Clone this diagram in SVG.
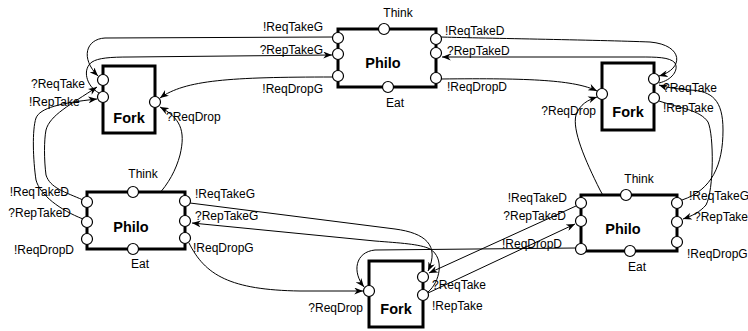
<svg xmlns="http://www.w3.org/2000/svg" width="748" height="331" viewBox="0 0 748 331">
<defs>
<marker id="ah" viewBox="0 0 10 8" refX="10" refY="4" markerWidth="9" markerHeight="7" markerUnits="userSpaceOnUse" orient="auto">
<path d="M0,0 L10,4 L0,8 L3,4 z" fill="#000"/>
</marker>
<style>
.box{fill:#fff;stroke:#000;stroke-width:3}
.port{fill:#fff;stroke:#000;stroke-width:1.2}
.c{fill:none;stroke:#000;stroke-width:1;marker-end:url(#ah)}
.lbl{font-family:"Liberation Sans",Arial,sans-serif;font-size:12px;fill:#000}
.ttl{font-family:"Liberation Sans",Arial,sans-serif;font-size:14.5px;font-weight:bold;fill:#000;text-anchor:middle}
.e{text-anchor:end}
.m{text-anchor:middle}
</style>
</defs>
<rect width="748" height="331" fill="#fff"/>
<g id="connectors">
<path class="c" d="M333,37 L105,38 C86,39 80,58 98,76"/>
<path class="c" d="M99,93 C86,86 82,69 92,62 C98,58 110,57 130,57 L332,55"/>
<path class="c" d="M333,77 C230,77 185,80 160,98"/>
<path class="c" d="M441,37 C470,38 600,40 650,42 C684,45 684,69 659,76"/>
<path class="c" d="M659,83 C672,80 679,70 675,63 C670,57 656,57 640,57 L442,57"/>
<path class="c" d="M441,79 C530,78 575,80 597,91"/>
<path class="c" d="M672,240 C640,226 612,214 600,190 C585,160 572,130 576,115 C580,104 588,100 597,97"/>
<path class="c" d="M682,200 C712,190 723,165 723,130 C723,100 712,91 690,90 C678,89 668,88 659,85"/>
<path class="c" d="M659,101 C680,108 700,110 708,122 C714,135 714,190 706,205 C700,212 692,216 683,219"/>
<path class="c" d="M83,200 C65,192 50,188 46,175 C44,160 44,140 46,130 C50,115 70,105 97,87"/>
<path class="c" d="M83,219 C60,210 40,195 36,180 C33,160 32,130 36,118 C40,108 60,103 97,99"/>
<path class="c" d="M92,236 L112,227 C150,210 172,185 180,155 C186,130 180,118 160,107"/>
<path class="c" d="M190,203 L395,229 C425,233 440,245 428,271"/>
<path class="c" d="M428,292 C440,282 445,258 430,249 C420,244 400,243 375,241 L192,223"/>
<path class="c" d="M189,243 C205,275 230,290 300,291 L363,291"/>
<path class="c" d="M576,248 L375,250 C355,252 352,272 364,287"/>
<path class="c" d="M576,206 L429,273"/>
<path class="c" d="M428,293 L575,224"/>
</g>
<g id="philo-top">
<rect class="box" x="338" y="29" width="98" height="58"/>
<circle class="port" cx="384" cy="29" r="5.5"/>
<circle class="port" cx="388" cy="87" r="5.5"/>
<circle class="port" cx="338" cy="38" r="5.5"/>
<circle class="port" cx="338" cy="54" r="5.5"/>
<circle class="port" cx="338" cy="76" r="5.5"/>
<circle class="port" cx="436" cy="39" r="5.5"/>
<circle class="port" cx="436" cy="53" r="5.5"/>
<circle class="port" cx="436" cy="78" r="5.5"/>
<text class="ttl" x="383" y="68">Philo</text>
<text class="lbl m" x="398" y="17">Think</text>
<text class="lbl m" x="395" y="107">Eat</text>
<text class="lbl e" x="323" y="31">!ReqTakeG</text>
<text class="lbl e" x="323" y="54">?RepTakeG</text>
<text class="lbl e" x="323" y="93">!ReqDropG</text>
<text class="lbl" x="445" y="35">!ReqTakeD</text>
<text class="lbl" x="447" y="55">?RepTakeD</text>
<text class="lbl" x="447" y="91">!ReqDropD</text>
</g>
<g id="fork-left">
<rect class="box" x="103" y="66" width="52" height="67"/>
<circle class="port" cx="103" cy="80" r="5.5"/>
<circle class="port" cx="103" cy="97" r="5.5"/>
<circle class="port" cx="155" cy="102" r="5.5"/>
<text class="ttl" x="129" y="123">Fork</text>
<text class="lbl" x="31" y="88">?ReqTake</text>
<text class="lbl" x="29" y="106">!RepTake</text>
<text class="lbl" x="166" y="121">?ReqDrop</text>
</g>
<g id="fork-right">
<rect class="box" x="602" y="63" width="52" height="67"/>
<circle class="port" cx="602" cy="94" r="5.5"/>
<circle class="port" cx="654" cy="79" r="5.5"/>
<circle class="port" cx="654" cy="98" r="5.5"/>
<text class="ttl" x="628" y="117">Fork</text>
<text class="lbl e" x="596" y="115">?ReqDrop</text>
<text class="lbl" x="663" y="92">?ReqTake</text>
<text class="lbl" x="663" y="112">!RepTake</text>
</g>
<g id="fork-bottom">
<rect class="box" x="369" y="261" width="54" height="66"/>
<circle class="port" cx="369" cy="291" r="5.5"/>
<circle class="port" cx="423" cy="277" r="5.5"/>
<circle class="port" cx="423" cy="295" r="5.5"/>
<text class="ttl" x="396" y="314">Fork</text>
<text class="lbl" x="432" y="289">?ReqTake</text>
<text class="lbl" x="432" y="310">!RepTake</text>
<text class="lbl e" x="363" y="312">?ReqDrop</text>
</g>
<g id="philo-left">
<rect class="box" x="87" y="192" width="98" height="57"/>
<circle class="port" cx="133" cy="192" r="5.5"/>
<circle class="port" cx="133" cy="249" r="5.5"/>
<circle class="port" cx="87" cy="202" r="5.5"/>
<circle class="port" cx="87" cy="222" r="5.5"/>
<circle class="port" cx="87" cy="239" r="5.5"/>
<circle class="port" cx="185" cy="201" r="5.5"/>
<circle class="port" cx="185" cy="221" r="5.5"/>
<circle class="port" cx="185" cy="238" r="5.5"/>
<text class="ttl" x="131" y="232">Philo</text>
<text class="lbl m" x="143" y="178">Think</text>
<text class="lbl m" x="140" y="268">Eat</text>
<text class="lbl e" x="69" y="196">!ReqTakeD</text>
<text class="lbl e" x="71" y="217">?RepTakeD</text>
<text class="lbl e" x="74" y="254">!ReqDropD</text>
<text class="lbl" x="195" y="198">!ReqTakeG</text>
<text class="lbl" x="195" y="220">?RepTakeG</text>
<text class="lbl" x="193" y="252">!ReqDropG</text>
</g>
<g id="philo-right">
<rect class="box" x="581" y="195" width="96" height="56"/>
<circle class="port" cx="626" cy="195" r="5.5"/>
<circle class="port" cx="630" cy="251" r="5.5"/>
<circle class="port" cx="581" cy="203" r="5.5"/>
<circle class="port" cx="581" cy="221" r="5.5"/>
<circle class="port" cx="581" cy="249" r="5.5"/>
<circle class="port" cx="677" cy="203" r="5.5"/>
<circle class="port" cx="677" cy="222" r="5.5"/>
<circle class="port" cx="677" cy="242" r="5.5"/>
<text class="ttl" x="623" y="234">Philo</text>
<text class="lbl m" x="639" y="183">Think</text>
<text class="lbl m" x="637" y="271">Eat</text>
<text class="lbl e" x="567" y="202">!ReqTakeD</text>
<text class="lbl e" x="566" y="220">?RepTakeD</text>
<text class="lbl" x="502" y="248">!ReqDropD</text>
<text class="lbl" x="689" y="200">!ReqTakeG</text>
<text class="lbl" x="694" y="221">?RepTakeG</text>
<text class="lbl" x="687" y="258">!ReqDropG</text>
</g>
</svg>
